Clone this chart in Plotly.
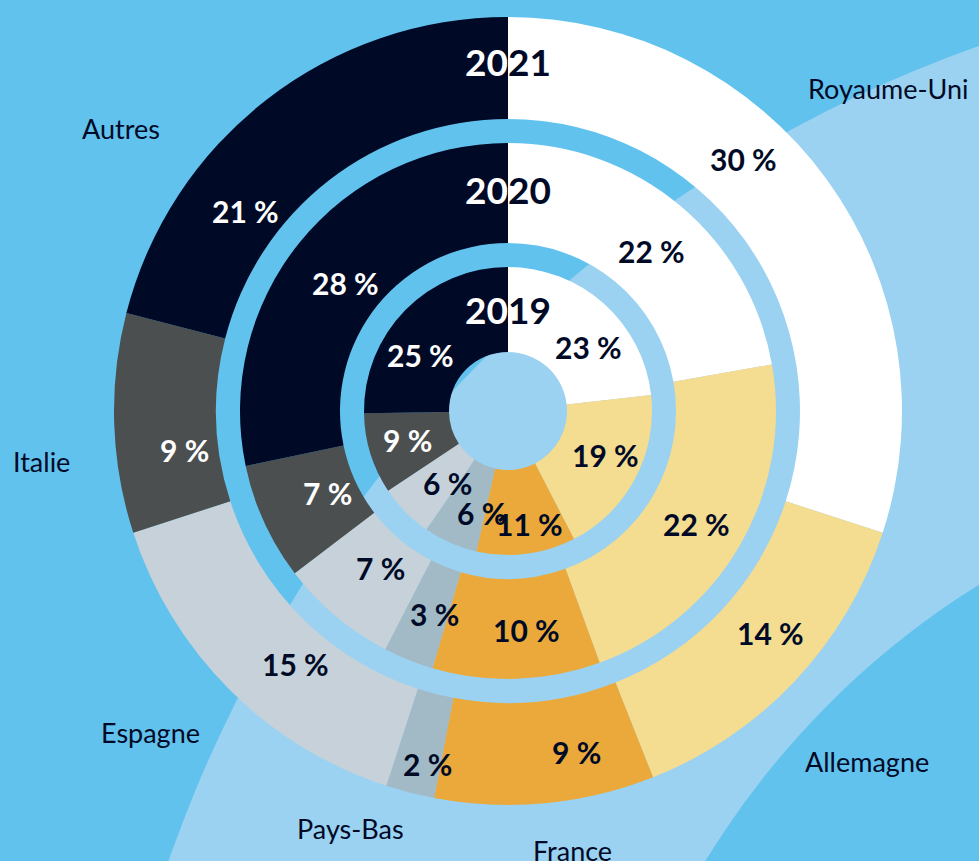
import math
import plotly.graph_objects as go

# ---------------- data ----------------
categories = ["Royaume-Uni", "Allemagne", "France", "Pays-Bas", "Espagne", "Italie", "Autres"]
years = ["2019", "2020", "2021"]
values_2019 = [23, 19, 11, 6, 6, 9, 25]
values_2020 = [22, 22, 10, 3, 7, 7, 28]
values_2021 = [30, 14, 9, 2, 15, 9, 21]

# ---------------- style ----------------
W, H = 979, 861
CX, CY = 508, 411
NAVY = "#000a26"
BG_MID = "#62c2ee"
BG_LIGHT = "#9bd2f1"
slice_colors = ["#ffffff", "#f4dc90", "#eaa93a", "#a2bac6", "#c6d1d9", "#4b4f50", NAVY]
text_colors = [NAVY, NAVY, NAVY, NAVY, NAVY, "#ffffff", "#ffffff"]
# inner radius, outer radius (pixels)
ring_geom = {"2019": (59, 144), "2020": (168, 268), "2021": (292, 394)}
year_label_r = {"2019": 101, "2020": 221, "2021": 349}
series = {"2019": values_2019, "2020": values_2020, "2021": values_2021}
# per-label placement tweaks: (angle shift in degrees, label radius in px)
label_place = {
    "2021": [(-11, 345), (-3, 344), (-6, 348), (-1.5, 362), (-5, 330), (-5, 326), (-15, 330)],
    "2020": [(2, 215), (1, 220), (-3, 220), (-2, 216), (-1, 202), (0, 198), (-1, 207)],
    "2019": [(10, 103), (-4, 107), (-3.5, 115), (-9, 105), (-5, 94), (1, 105), (-12, 104)],
}
FONT = "Lato"


def px(x):
    return x / W


def py(y):
    return 1 - y / H


fig = go.Figure()
annotations = []

for yr in years:
    vals = series[yr]
    rin, rout = ring_geom[yr]
    fig.add_trace(go.Pie(
        values=vals, labels=categories, sort=False, direction="clockwise", rotation=0,
        hole=rin / rout,
        marker=dict(colors=slice_colors, line=dict(width=0)),
        textinfo="none", hoverinfo="label+value", showlegend=False,
        domain=dict(x=[px(CX - rout), px(CX + rout)], y=[py(CY + rout), py(CY - rout)]),
    ))
    total = sum(vals)
    cum = 0
    for v, tc, (dang, rlab) in zip(vals, text_colors, label_place[yr]):
        theta = 2 * math.pi * (cum + v / 2) / total + math.radians(dang)
        cum += v
        x = CX + rlab * math.sin(theta)
        y = CY - rlab * math.cos(theta)
        annotations.append(dict(
            x=px(x), y=py(y), xref="paper", yref="paper", showarrow=False,
            text=f"{v} %", font=dict(family=FONT, size=30, color=tc, weight=700),
            xanchor="center", yanchor="middle",
        ))
    # year label at the top of the ring, straddling the navy/white boundary
    ymid = CY - year_label_r[yr]
    annotations.append(dict(
        x=px(CX), y=py(ymid), xref="paper", yref="paper", showarrow=False,
        text=f"<span style='color:#ffffff'>{yr[:2]}</span><span style='color:{NAVY}'>{yr[2:]}</span>",
        font=dict(family=FONT, size=37, weight=700),
        xanchor="center", yanchor="middle",
    ))

# category labels around the outer ring
cat_label_pos = {
    "Royaume-Uni": (806, 88, "left"),
    "Autres": (121, 128, "center"),
    "Italie": (41, 461, "center"),
    "Espagne": (150, 732, "center"),
    "Pays-Bas": (350, 828, "center"),
    "France": (572, 850, "center"),
    "Allemagne": (867, 761, "center"),
}
for name in categories:
    x, y, anc = cat_label_pos[name]
    annotations.append(dict(
        x=px(x), y=py(y), xref="paper", yref="paper", showarrow=False,
        text=name, font=dict(family=FONT, size=27, color=NAVY),
        xanchor=anc, yanchor="middle",
    ))

# decorative light arc band in the background
BX, BY, R_OUT, R_IN = 1425, 1300, 1331, 843
shapes = [
    dict(type="circle", xref="paper", yref="paper", layer="below",
         x0=px(BX - R_OUT), x1=px(BX + R_OUT), y0=py(BY + R_OUT), y1=py(BY - R_OUT),
         fillcolor=BG_LIGHT, line=dict(width=0)),
    dict(type="circle", xref="paper", yref="paper", layer="below",
         x0=px(BX - R_IN), x1=px(BX + R_IN), y0=py(BY + R_IN), y1=py(BY - R_IN),
         fillcolor=BG_MID, line=dict(width=0)),
]

fig.update_layout(
    width=W, height=H,
    margin=dict(l=0, r=0, t=0, b=0),
    paper_bgcolor=BG_MID, plot_bgcolor=BG_MID,
    annotations=annotations, shapes=shapes,
    showlegend=False,
)

fig.write_html(
    "out.html",
    config={"displayModeBar": False},
    post_script="document.body.style.margin='0';document.body.style.overflow='hidden';"
                "document.body.style.background='" + BG_MID + "';",
)
